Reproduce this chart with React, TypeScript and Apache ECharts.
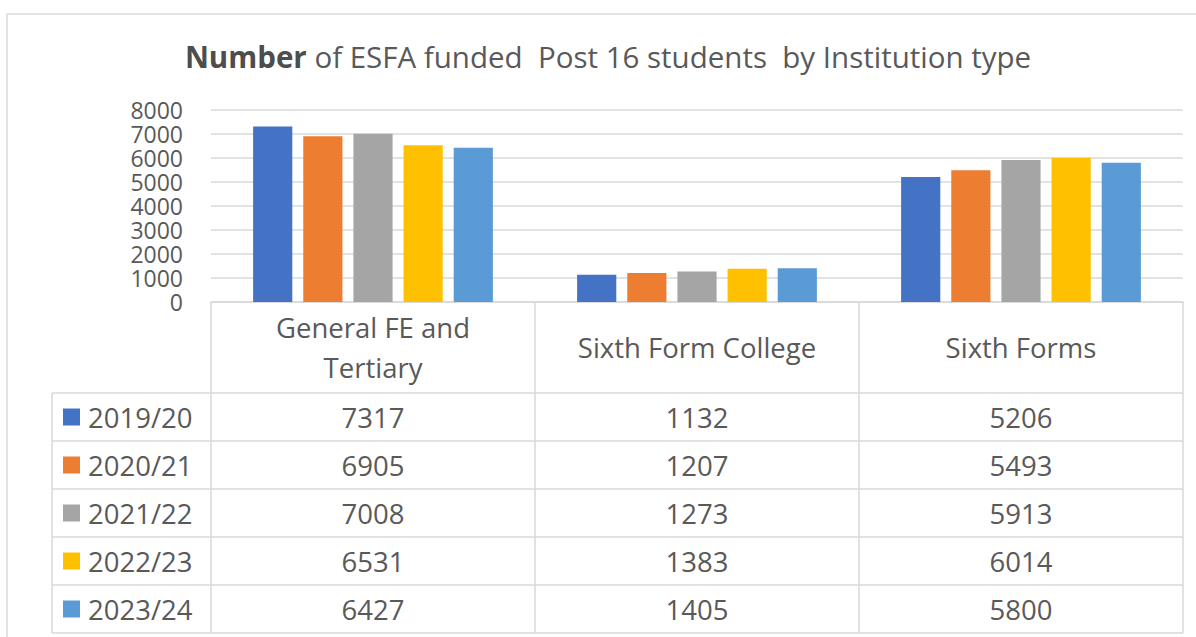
import React, { useEffect, useRef } from "react";
import * as echarts from "echarts";

const categories = ["General FE and Tertiary", "Sixth Form College", "Sixth Forms"];
const categoryLabels = ["General FE and\nTertiary", "Sixth Form College", "Sixth Forms"];
const seriesNames = ["2019/20", "2020/21", "2021/22", "2022/23", "2023/24"];
const values2019 = [7317, 1132, 5206];
const values2020 = [6905, 1207, 5493];
const values2021 = [7008, 1273, 5913];
const values2022 = [6531, 1383, 6014];
const values2023 = [6427, 1405, 5800];
const seriesValues = [values2019, values2020, values2021, values2022, values2023];
const colors = ["#4472C4", "#ED7D31", "#A5A5A5", "#FFC000", "#5B9BD5"];
const yMin = 0;
const yMax = 8000;
const yInterval = 1000;

const FONT = "'Open Sans', 'Noto Sans', sans-serif";
const TEXT = "#595959";
const LINE = "#D9D9D9";

export default function App() {
  const ref = useRef<HTMLDivElement>(null);

  useEffect(() => {
    if (!ref.current) return;
    const chart = echarts.init(ref.current, null, { renderer: "svg" });
    chart.setOption({
      animation: false,
      backgroundColor: "#ffffff",
      textStyle: { fontFamily: FONT },
      grid: { left: 211, right: 13, top: 110, bottom: 335, containLabel: false },
      xAxis: {
        type: "category",
        data: categories,
        axisLabel: { show: false },
        axisTick: { show: false },
        axisLine: { show: true, lineStyle: { color: LINE, width: 1.5 } },
        splitLine: { show: false },
      },
      yAxis: {
        type: "value",
        min: yMin,
        max: yMax,
        interval: yInterval,
        axisLine: { show: false },
        axisTick: { show: false },
        axisLabel: {
          color: TEXT,
          fontSize: 23,
          lineHeight: 23,
          fontFamily: FONT,
          margin: 28,
          hideOverlap: false,
          formatter: (v: number) => String(v),
        },
        splitLine: { lineStyle: { color: LINE, width: 1.5 } },
      },
      series: seriesNames.map((name, i) => ({
        name,
        type: "bar",
        data: seriesValues[i],
        itemStyle: { color: colors[i] },
        barGap: "28%",
        barCategoryGap: "26%",
      })),
    });

    const x0 = chart.convertToPixel({ xAxisIndex: 0 }, 0) as number;
    const x1 = chart.convertToPixel({ xAxisIndex: 0 }, 1) as number;
    const catW = x1 - x0;
    const left = x0 - catW / 2;
    const right = left + catW * categories.length;
    const yZero = chart.convertToPixel({ yAxisIndex: 0 }, 0) as number;
    const headerH = 91;
    const rowH = 48;
    const tableLeft = 52;
    const bodyTop = yZero + headerH;
    const bottom = bodyTop + rowH * seriesNames.length;
    const tableFont = `27.5px ${FONT}`;

    const lineStyle = { stroke: LINE, lineWidth: 1.5 };
    const elements: any[] = [];
    // outer frame
    elements.push({ type: "line", shape: { x1: 7, y1: 14, x2: 1196, y2: 14 }, style: lineStyle, silent: true });
    elements.push({ type: "line", shape: { x1: 7, y1: 14, x2: 7, y2: 637 }, style: lineStyle, silent: true });
    // title
    elements.push({
      type: "text",
      x: 608,
      y: 56,
      style: {
        text: "{b|Number} of ESFA funded  Post 16 students  by Institution type",
        fill: TEXT,
        font: `29.5px ${FONT}`,
        align: "center",
        verticalAlign: "middle",
        rich: { b: { fontWeight: "bold", fontSize: 29.5, fontFamily: FONT, fill: "#4d4d4d" } },
      },
    });
    // column verticals
    for (let i = 0; i <= categories.length; i++) {
      const x = left + i * catW;
      elements.push({ type: "line", shape: { x1: x, y1: yZero, x2: x, y2: bottom }, style: lineStyle, silent: true });
    }
    elements.push({ type: "line", shape: { x1: tableLeft, y1: bodyTop, x2: tableLeft, y2: bottom }, style: lineStyle, silent: true });
    for (let r = 0; r <= seriesNames.length; r++) {
      const y = bodyTop + r * rowH;
      elements.push({ type: "line", shape: { x1: tableLeft, y1: y, x2: right, y2: y }, style: lineStyle, silent: true });
    }
    // header labels
    categoryLabels.forEach((label, i) => {
      elements.push({
        type: "text",
        x: left + (i + 0.5) * catW,
        y: yZero + headerH / 2,
        style: {
          text: label,
          fill: TEXT,
          font: tableFont,
          lineHeight: 40,
          align: "center",
          verticalAlign: "middle",
        },
      });
    });
    // rows
    seriesNames.forEach((name, r) => {
      const cy = bodyTop + r * rowH + rowH / 2;
      elements.push({
        type: "rect",
        shape: { x: 63, y: cy - 8.5, width: 17, height: 17 },
        style: { fill: colors[r] },
      });
      elements.push({
        type: "text",
        x: 88,
        y: cy,
        style: { text: name, fill: TEXT, font: tableFont, align: "left", verticalAlign: "middle" },
      });
      seriesValues[r].forEach((v, c) => {
        elements.push({
          type: "text",
          x: left + (c + 0.5) * catW,
          y: cy,
          style: { text: String(v), fill: TEXT, font: tableFont, align: "center", verticalAlign: "middle" },
        });
      });
    });

    chart.setOption({ graphic: { elements } });

    return () => chart.dispose();
  }, []);

  return (
    <div
      ref={ref}
      style={{ position: "absolute", left: 0, top: 0, width: 1196, height: 637, background: "#fff" }}
    />
  );
}
